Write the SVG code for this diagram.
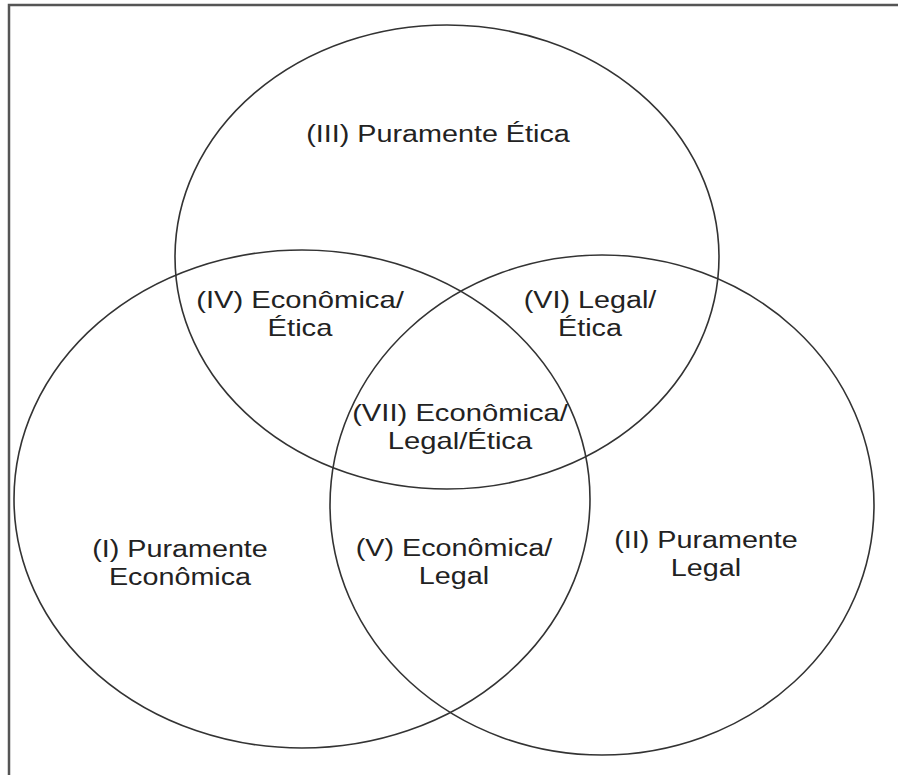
<svg xmlns="http://www.w3.org/2000/svg" width="898" height="775" viewBox="0 0 898 775">
<style>
.set{fill:none;stroke:#333;stroke-width:1.6}
.frame{fill:none;stroke:#555;stroke-width:2.5}
.lbl{font-family:"Liberation Sans",Arial,sans-serif;font-size:23px;fill:#222;text-anchor:middle}
</style>
<rect width="898" height="775" fill="#fff"/>
<path class="frame" d="M9,775 V5 H898"/>
<g id="set-etica"><ellipse class="set" cx="447" cy="257" rx="272" ry="232"/></g>
<g id="set-economica"><ellipse class="set" cx="302" cy="499" rx="288" ry="249"/></g>
<g id="set-legal"><ellipse class="set" cx="602" cy="505" rx="272" ry="250"/></g>
<g id="connectors"></g>
<g id="region-III" transform="translate(438,0) scale(1.25,1)"><text class="lbl" x="0" y="142">(III) Puramente Ética</text></g>
<g id="region-IV" transform="translate(300,0) scale(1.27,1)"><text class="lbl" x="0" y="308">(IV) Econômica/</text><text class="lbl" x="0" y="336">Ética</text></g>
<g id="region-VI" transform="translate(590,0) scale(1.25,1)"><text class="lbl" x="0" y="308">(VI) Legal/</text><text class="lbl" x="0" y="336">Ética</text></g>
<g id="region-VII" transform="translate(460,0) scale(1.27,1)"><text class="lbl" x="0" y="421">(VII) Econômica/</text><text class="lbl" x="0" y="449">Legal/Ética</text></g>
<g id="region-I" transform="translate(180,0) scale(1.25,1)"><text class="lbl" x="0" y="557">(I) Puramente</text><text class="lbl" x="0" y="585">Econômica</text></g>
<g id="region-V" transform="translate(454,0) scale(1.25,1)"><text class="lbl" x="0" y="556">(V) Econômica/</text><text class="lbl" x="0" y="584">Legal</text></g>
<g id="region-II" transform="translate(706,0) scale(1.25,1)"><text class="lbl" x="0" y="548">(II) Puramente</text><text class="lbl" x="0" y="576">Legal</text></g>
</svg>
